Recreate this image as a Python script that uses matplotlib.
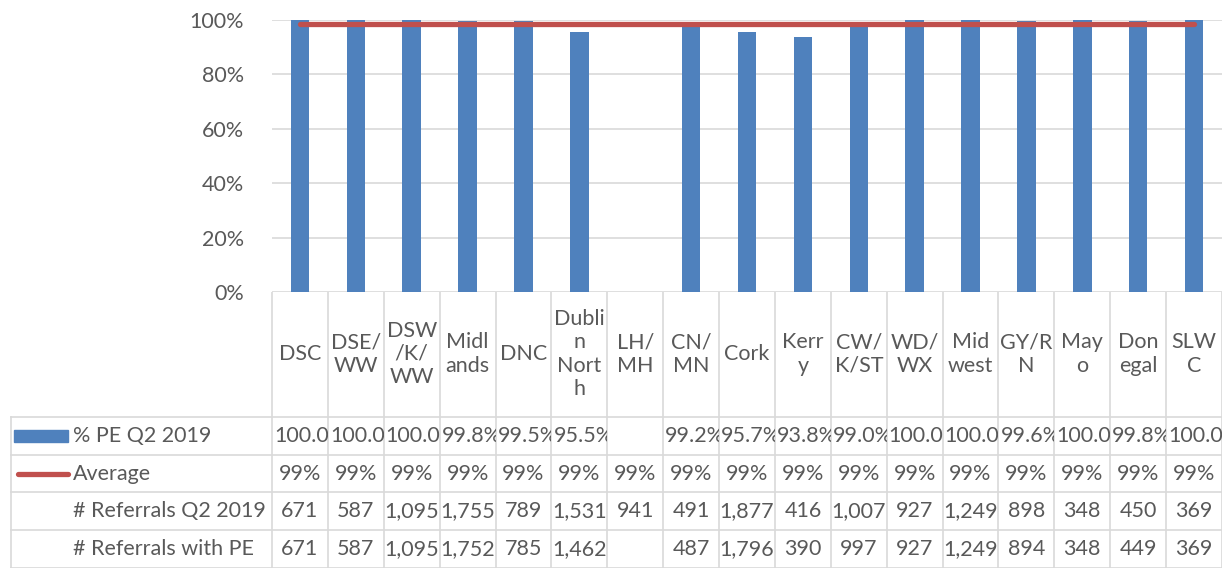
# PE rate by area, Q2 2019, bar + average line with an Excel-style data table

import numpy as np
import matplotlib.pyplot as plt
from matplotlib.patches import Rectangle
from matplotlib.transforms import Bbox, TransformedBbox

plt.rcParams['font.family'] = ['Lato', 'DejaVu Sans']

# Data
areas = ["DSC", "DSE/\nWW", "DSW\n/K/\nWW", "Midl\nands", "DNC", "Dubli\nn\nNort\nh",
         "LH/\nMH", "CN/\nMN", "Cork", "Kerr\ny", "CW/\nK/ST", "WD/\nWX", "Mid\nwest",
         "GY/R\nN", "May\no", "Don\negal", "SLW\nC"]
pe_q2 = [1.000, 1.000, 1.000, 0.998, 0.995, 0.955, np.nan, 0.992, 0.957, 0.938,
         0.990, 1.000, 1.000, 0.996, 1.000, 0.998, 1.000]
average = [0.986] * 17
referrals = [671, 587, 1095, 1755, 789, 1531, 941, 491, 1877, 416, 1007, 927, 1249,
             898, 348, 450, 369]
referrals_pe = [671, 587, 1095, 1752, 785, 1462, None, 487, 1796, 390, 997, 927, 1249,
                894, 348, 449, 369]
row_names = ["% PE Q2 2019", "Average", "# Referrals Q2 2019", "# Referrals with PE"]

blue = "#4F81BD"
red = "#C0504D"
grid_c = "#D9D9D9"
txt_c = "#595959"
fs = 15.5

W, H = 1232, 568
fig = plt.figure(figsize=(W / 100, H / 100), dpi=100)

# plot area in pixels
x0, x1 = 272, 1222
y_top, y_bot = 20, 292
n = len(areas)
col_px = (x1 - x0) / n
hdr = (x0 - 10) / col_px

ax = fig.add_axes([x0 / W, 1 - y_bot / H, (x1 - x0) / W, (y_bot - y_top) / H])
xs = np.arange(n)
ax.bar(xs, pe_q2, width=0.33, color=blue, zorder=2)
ax.plot(xs, average, color=red, lw=3.8, solid_capstyle='round', zorder=3)
ax.set_xlim(-0.5, n - 0.5)
ax.set_ylim(0, 1)
ax.set_yticks(np.arange(0, 1.01, 0.2))
ax.set_yticklabels([f"{v:.0%}" for v in np.arange(0, 1.01, 0.2)], fontsize=fs, color=txt_c)
ax.tick_params(axis='y', length=0, pad=20)
ax.set_xticks([])
ax.grid(axis='y', color=grid_c, lw=1.2, zorder=0)
for s in ax.spines.values():
    s.set_visible(False)

# data table below the plot, y in pixels from the axis line down
tb = fig.add_axes([10 / W, 0, (x1 - 10) / W, (H - y_bot) / H])
tb.set_xlim(-0.5 - hdr, n - 0.5)
tb.set_ylim(H - y_bot, 0)
tb.axis('off')

row_lines = [125, 163, 200, 238, 275.5]
for k in range(n + 1):
    tb.plot([k - 0.5, k - 0.5], [0, row_lines[-1]], color=grid_c, lw=1.2)
tb.plot([-0.5 - hdr + 0.01] * 2, [row_lines[0], row_lines[-1]], color=grid_c, lw=1.2)
for y in row_lines:
    tb.plot([-0.5 - hdr + 0.01, n - 0.5], [y, y], color=grid_c, lw=1.2)

# category labels
for i, lab in enumerate(areas):
    tb.text(i, 62, lab, ha='center', va='center', fontsize=fs, color=txt_c,
            linespacing=1.2, multialignment='center')

# row headers with legend keys
row_c = [(row_lines[i] + row_lines[i + 1]) / 2 for i in range(4)]
hx = -0.5 - hdr
tb.add_patch(Rectangle((hx + 4 / col_px, row_c[0] - 6), 54 / col_px, 12, color=blue))
tb.plot([hx + 8 / col_px, hx + 58 / col_px], [row_c[1], row_c[1]], color=red, lw=3.8,
        solid_capstyle='round')
for name, yc in zip(row_names, row_c):
    tb.text(hx + 63 / col_px, yc, name, ha='left', va='center', fontsize=fs, color=txt_c)

# table cells; percentages too wide for a cell get cut at its right edge
for i in range(n):
    if not np.isnan(pe_q2[i]):
        t = tb.text(i - 0.5 + 2 / col_px, row_c[0], f"{pe_q2[i]:.1%}", ha='left',
                    va='center', fontsize=fs, color=txt_c)
        cell = Bbox.from_extents(i - 0.5, row_lines[0], i + 0.5, row_lines[1])
        t.set_clip_box(TransformedBbox(cell, tb.transData))
        t.set_clip_on(True)
    tb.text(i, row_c[1], f"{average[i]:.0%}", ha='center', va='center', fontsize=fs, color=txt_c)
    tb.text(i, row_c[2], f"{referrals[i]:,}", ha='center', va='center', fontsize=fs, color=txt_c)
    if referrals_pe[i] is not None:
        tb.text(i, row_c[3], f"{referrals_pe[i]:,}", ha='center', va='center',
                fontsize=fs, color=txt_c)

fig.savefig("out.png", dpi=100)
